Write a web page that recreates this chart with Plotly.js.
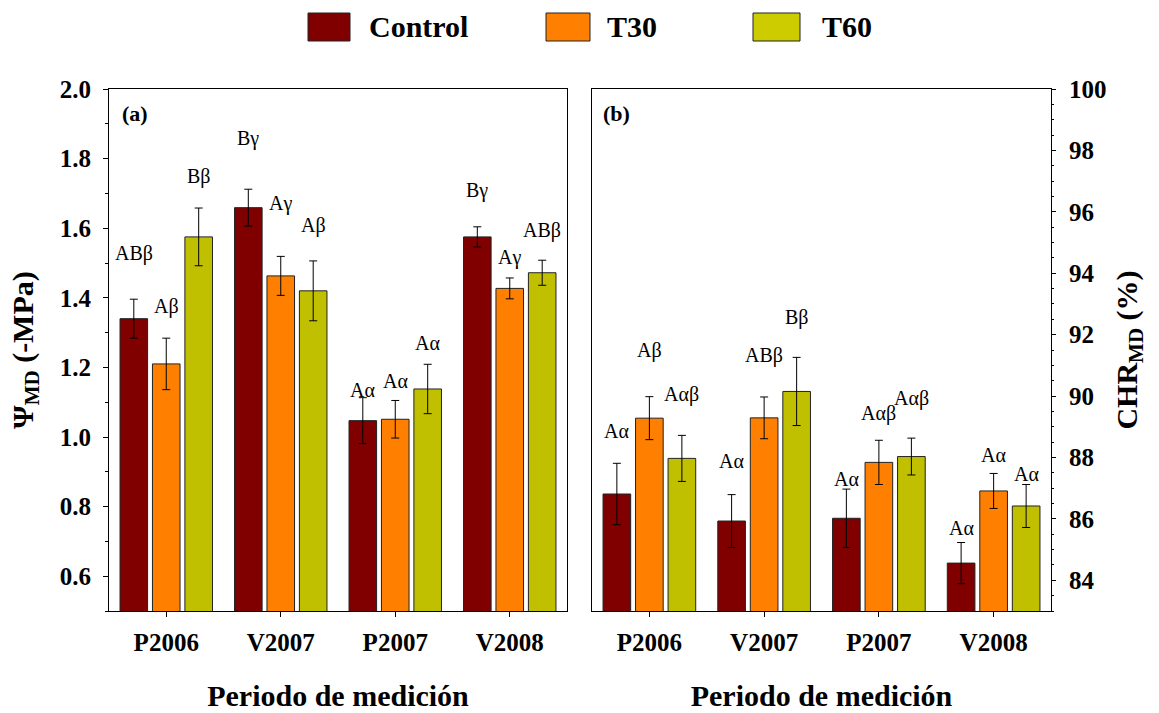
<!DOCTYPE html>
<html>
<head>
<meta charset="utf-8">
<script src="https://cdn.plot.ly/plotly-3.0.1.min.js"></script>
<style>html,body{margin:0;padding:0;background:#fff;}#chart{width:1159px;height:713px;}</style>
</head>
<body>
<div id="chart"></div>
<script>
const categories = ['P2006', 'V2007', 'P2007', 'V2008'];
const seriesNames = ['Control', 'T30', 'T60'];

const psiControl = [1.340, 1.659, 1.047, 1.575];
const psiControlErr = [0.056, 0.053, 0.066, 0.029];
const psiT30 = [1.210, 1.463, 1.051, 1.427];
const psiT30Err = [0.074, 0.056, 0.054, 0.030];
const psiT60 = [1.575, 1.420, 1.138, 1.472];
const psiT60Err = [0.083, 0.086, 0.071, 0.036];

const chrControl = [86.81, 85.93, 86.02, 84.56];
const chrControlErr = [1.00, 0.86, 0.95, 0.67];
const chrT30 = [89.28, 89.29, 87.84, 86.91];
const chrT30Err = [0.70, 0.68, 0.72, 0.57];
const chrT60 = [87.97, 90.15, 88.03, 86.42];
const chrT60Err = [0.75, 1.11, 0.60, 0.70];

const psiLabelsControl = ['ABβ', 'Bγ', 'Aα', 'Bγ'];
const psiLabelsT30 = ['Aβ', 'Aγ', 'Aα', 'Aγ'];
const psiLabelsT60 = ['Bβ', 'Aβ', 'Aα', 'ABβ'];
const psiLabelYControl = [1.528, 1.857, 1.134, 1.708];
const psiLabelYT30 = [1.374, 1.671, 1.161, 1.515];
const psiLabelYT60 = [1.750, 1.607, 1.270, 1.592];

const chrLabelsControl = ['Aα', 'Aα', 'Aα', 'Aα'];
const chrLabelsT30 = ['Aβ', 'ABβ', 'Aαβ', 'Aα'];
const chrLabelsT60 = ['Aαβ', 'Bβ', 'Aαβ', 'Aα'];
const chrLabelYControl = [88.86, 87.87, 87.31, 85.69];
const chrLabelYT30 = [91.50, 91.33, 89.42, 88.08];
const chrLabelYT60 = [90.04, 92.57, 89.93, 87.46];

const colors = ['#800000', '#FF8000', '#C0C000'];
const FONT = '"Liberation Serif", "Times New Roman", serif';
const W = 1159, H = 713;
const px = v => v / W;
const py = v => 1 - v / H;

const bargap = 0.15;
const slot = (1 - bargap) / 3;

function barTrace(y, err, i, xa, ya) {
  return {
    type: 'bar', x: categories, y: y, name: seriesNames[i],
    xaxis: xa, yaxis: ya, showlegend: false,
    marker: {color: colors[i], line: {color: '#222', width: 1}},
    error_y: {type: 'data', array: err, visible: true, color: '#000', thickness: 1, width: 4},
    hoverinfo: 'x+y'
  };
}

const data = [
  barTrace(psiControl, psiControlErr, 0, 'x', 'y'),
  barTrace(psiT30, psiT30Err, 1, 'x', 'y'),
  barTrace(psiT60, psiT60Err, 2, 'x', 'y'),
  barTrace(chrControl, chrControlErr, 0, 'x2', 'y2'),
  barTrace(chrT30, chrT30Err, 1, 'x2', 'y2'),
  barTrace(chrT60, chrT60Err, 2, 'x2', 'y2')
];

const annotations = [];
function addLabels(labels, ys, seriesIdx, xref, yref) {
  labels.forEach((t, g) => {
    annotations.push({
      x: g + (seriesIdx - 1) * slot, y: ys[g], xref: xref, yref: yref,
      text: t, showarrow: false, xanchor: 'center', yanchor: 'middle',
      font: {family: FONT, size: 20, color: '#000'}
    });
  });
}
addLabels(psiLabelsControl, psiLabelYControl, 0, 'x', 'y');
addLabels(psiLabelsT30, psiLabelYT30, 1, 'x', 'y');
addLabels(psiLabelsT60, psiLabelYT60, 2, 'x', 'y');
addLabels(chrLabelsControl, chrLabelYControl, 0, 'x2', 'y2');
addLabels(chrLabelsT30, chrLabelYT30, 1, 'x2', 'y2');
addLabels(chrLabelsT60, chrLabelYT60, 2, 'x2', 'y2');

// panel tags
annotations.push({x: px(120), y: py(113), xref: 'paper', yref: 'paper', text: '(a)', showarrow: false,
  xanchor: 'left', yanchor: 'middle', font: {family: FONT, size: 22, color: '#000', weight: 'bold'}});
annotations.push({x: px(601), y: py(113), xref: 'paper', yref: 'paper', text: '(b)', showarrow: false,
  xanchor: 'left', yanchor: 'middle', font: {family: FONT, size: 22, color: '#000', weight: 'bold'}});

// custom legend
const shapes = [];
const legendBoxes = [[308, 350], [546, 590], [753, 800]];
const legendTextX = [367, 605, 820];
seriesNames.forEach((n, i) => {
  shapes.push({type: 'rect', xref: 'paper', yref: 'paper',
    x0: px(legendBoxes[i][0]), x1: px(legendBoxes[i][1]), y0: py(41), y1: py(13),
    fillcolor: i === 2 ? '#CCCC00' : colors[i], line: {color: '#222', width: 1}});
  annotations.push({x: px(legendTextX[i]), y: py(27), xref: 'paper', yref: 'paper',
    text: n, showarrow: false, xanchor: 'left', yanchor: 'middle',
    font: {family: FONT, size: 30, color: '#000', weight: 'bold'}});
});

const tickFont = {family: FONT, size: 25, color: '#000', weight: 'bold'};
const titleFont = {family: FONT, size: 30, color: '#000', weight: 'bold'};

const xBase = {
  type: 'category', categoryorder: 'array', categoryarray: categories,
  range: [-0.5, 3.5], showline: true, mirror: true, linecolor: '#000', linewidth: 1,
  ticks: 'outside', ticklen: 5, tickcolor: '#000', tickwidth: 1,
  tickfont: tickFont, ticklabelstandoff: 4, showgrid: false, zeroline: false, automargin: false,
  title: {text: 'Periodo de medición', font: titleFont, standoff: 29}
};

const layout = {
  width: W, height: H,
  margin: {l: 0, r: 0, t: 0, b: 0},
  paper_bgcolor: '#fff', plot_bgcolor: '#fff',
  barmode: 'group', bargap: bargap, bargroupgap: 0.15,
  showlegend: false,
  font: {family: FONT, color: '#000'},
  xaxis: Object.assign({}, xBase, {domain: [px(109), px(567)], anchor: 'y'}),
  xaxis2: Object.assign({}, xBase, {domain: [px(592), px(1051)], anchor: 'y2'}),
  yaxis: {
    domain: [py(611), py(89)], anchor: 'x', range: [0.5, 2.0],
    tick0: 0, dtick: 0.2, tickformat: '.1f',
    showline: true, mirror: true, linecolor: '#000', linewidth: 1,
    ticks: 'outside', ticklen: 5, tickcolor: '#000',
    minor: {dtick: 0.1, ticks: 'outside', ticklen: 3, tickcolor: '#000', showgrid: false},
    tickfont: tickFont, ticklabelstandoff: 7,
    showgrid: false, zeroline: false, automargin: false,
    title: {text: 'Ψ<sub>MD</sub> (-MPa)', font: titleFont, standoff: 17}
  },
  yaxis2: {
    domain: [py(611), py(89)], anchor: 'x2', side: 'right', range: [83, 100],
    tick0: 0, dtick: 2,
    showline: true, mirror: true, linecolor: '#000', linewidth: 1,
    ticks: 'outside', ticklen: 4, tickcolor: '#000',
    minor: {dtick: 0.5, ticks: 'outside', ticklen: 2, tickcolor: '#000', showgrid: false},
    tickfont: tickFont, ticklabelstandoff: 8,
    showgrid: false, zeroline: false, automargin: false,
    title: {text: 'CHR<sub>MD</sub> (%)', font: titleFont, standoff: 10}
  },
  annotations: annotations,
  shapes: shapes
};

Plotly.newPlot('chart', data, layout, {displayModeBar: false, staticPlot: true});
</script>
</body>
</html>
